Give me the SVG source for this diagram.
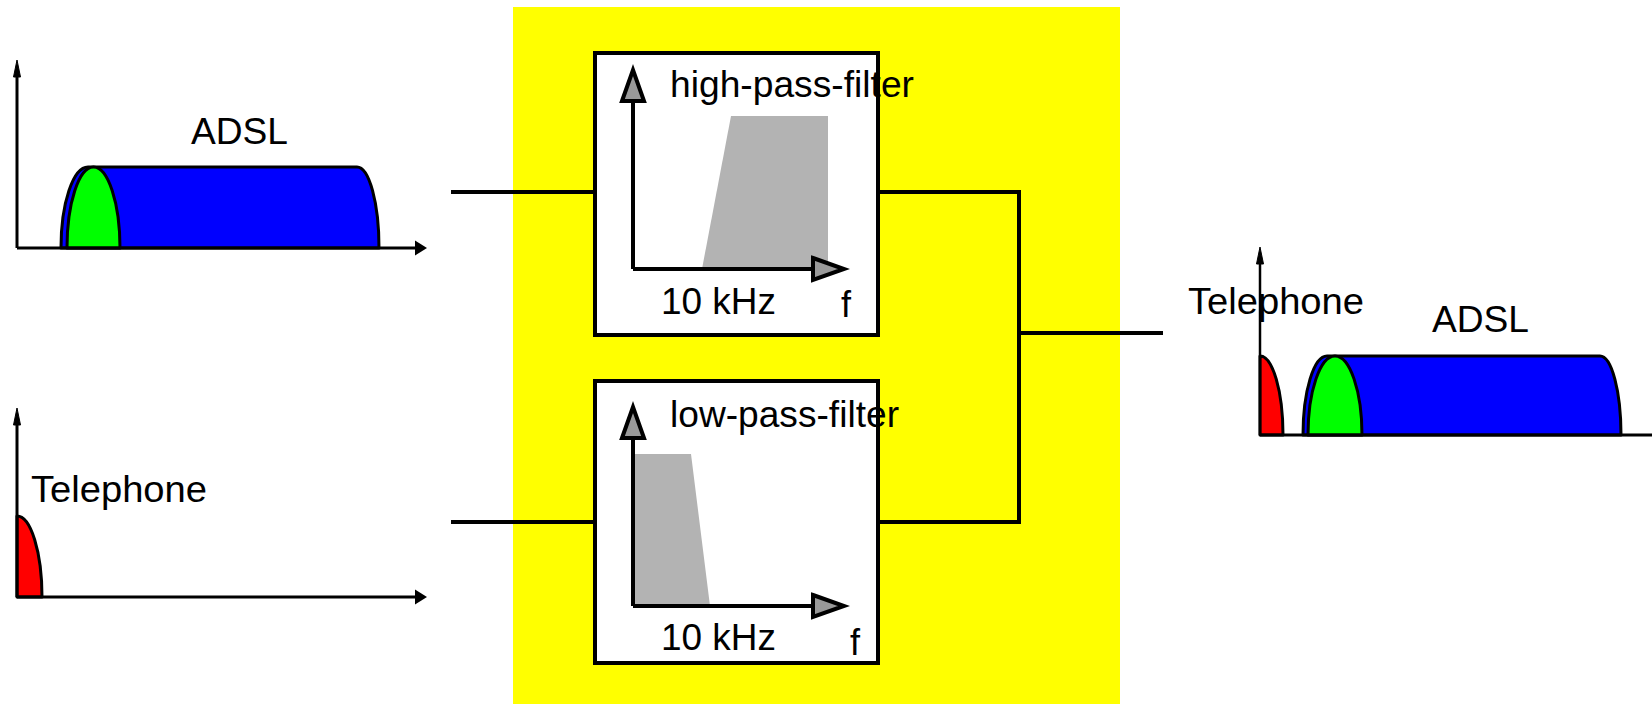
<svg xmlns="http://www.w3.org/2000/svg" width="1652" height="704" viewBox="0 0 1652 704">
<style>
text{font-family:"Liberation Sans",Arial,sans-serif;font-size:36px;fill:#000}
.ax{stroke:#000;stroke-width:3;fill:none}
.ax2{stroke:#000;stroke-width:2.5;fill:none}
.fax{stroke:#000;stroke-width:4;fill:none}
.box{fill:#fff;stroke:#000;stroke-width:4}
.wire{stroke:#000;stroke-width:4;fill:none;stroke-linecap:square}
.spec{stroke:#000;stroke-width:3;stroke-linejoin:round}
.pass{fill:#b3b3b3;stroke:none}
</style>
<defs>
<marker id="axX" markerUnits="userSpaceOnUse" markerWidth="20" markerHeight="20" refX="0" refY="0" orient="auto" overflow="visible">
<path d="M0,-7.5 L12,0 L0,7.5 Z" fill="#000"/>
</marker>
<marker id="axY" markerUnits="userSpaceOnUse" markerWidth="20" markerHeight="20" refX="0" refY="0" orient="auto" overflow="visible">
<path d="M0,-3.5 L17,0 L0,3.5 Z" fill="#000" stroke="#000" stroke-width="1"/>
</marker>
<marker id="fArrow" markerUnits="userSpaceOnUse" markerWidth="40" markerHeight="40" refX="0" refY="0" orient="auto" overflow="visible">
<path d="M0,-11 L31,0 L0,11 Z" fill="#999" stroke="#000" stroke-width="4" stroke-linejoin="miter"/>
</marker>
</defs>

<g id="splitter">
<rect x="513" y="7" width="607" height="697" fill="#ffff00"/>
</g>

<g id="connectors">
<line class="wire" x1="453" y1="192" x2="595" y2="192"/>
<line class="wire" x1="453" y1="522" x2="595" y2="522"/>
<polyline class="wire" points="878,192 1019,192 1019,522 878,522"/>
<line class="wire" x1="1019" y1="333" x2="1161" y2="333"/>
</g>

<g id="left-adsl-spectrum">
<path class="spec" fill="#0000ff" d="M61,248 A27,81 0 0 1 88,167 L357,167 A22,81 0 0 1 379,248 Z"/>
<path class="spec" fill="#00ff00" d="M67,248 A26.5,81 0 0 1 120,248 Z"/>
<line class="ax" x1="17" y1="248" x2="17" y2="77" marker-end="url(#axY)"/>
<line class="ax" x1="17" y1="248" x2="415" y2="248" marker-end="url(#axX)"/>
<text x="191" y="144" textLength="97" lengthAdjust="spacingAndGlyphs">ADSL</text>
</g>

<g id="left-telephone-spectrum">
<path class="spec" fill="#ff0000" d="M17,597 L17,516 A25,81 0 0 1 42,597 Z"/>
<line class="ax" x1="17" y1="597" x2="17" y2="425" marker-end="url(#axY)"/>
<line class="ax" x1="17" y1="597" x2="415" y2="597" marker-end="url(#axX)"/>
<text x="31" y="502" textLength="176" lengthAdjust="spacingAndGlyphs">Telephone</text>
</g>

<g id="hp-filter">
<rect class="box" x="595" y="53" width="283" height="282"/>
<polygon class="pass" points="702,269 731,116 828,116 828,269"/>
<line class="fax" x1="633" y1="269" x2="633" y2="101" marker-end="url(#fArrow)"/>
<line class="fax" x1="633" y1="269" x2="813" y2="269" marker-end="url(#fArrow)"/>
<text x="670" y="97" textLength="244" lengthAdjust="spacingAndGlyphs">high-pass-filter</text>
<text x="661" y="314" textLength="115" lengthAdjust="spacingAndGlyphs">10 kHz</text>
<text x="841" y="317">f</text>
</g>

<g id="lp-filter">
<rect class="box" x="595" y="381" width="283" height="282"/>
<polygon class="pass" points="635,454 691,454 710,606 635,606"/>
<line class="fax" x1="633" y1="606" x2="633" y2="438" marker-end="url(#fArrow)"/>
<line class="fax" x1="633" y1="606" x2="813" y2="606" marker-end="url(#fArrow)"/>
<text x="670" y="427" textLength="229" lengthAdjust="spacingAndGlyphs">low-pass-filter</text>
<text x="661" y="650" textLength="115" lengthAdjust="spacingAndGlyphs">10 kHz</text>
<text x="850" y="655">f</text>
</g>

<g id="right-spectrum">
<path class="spec" fill="#ff0000" d="M1260,435 L1260,356 A23,79 0 0 1 1283,435 Z"/>
<path class="spec" fill="#0000ff" d="M1303,435 A24,79 0 0 1 1327,356 L1600,356 A21,79 0 0 1 1621,435 Z"/>
<path class="spec" fill="#00ff00" d="M1308,435 A27,79 0 0 1 1362,435 Z"/>
<line class="ax2" x1="1260" y1="435" x2="1260" y2="264" marker-end="url(#axY)"/>
<line class="ax" x1="1260" y1="435" x2="1660" y2="435"/>
<text x="1188" y="314" textLength="176" lengthAdjust="spacingAndGlyphs">Telephone</text>
<text x="1432" y="332" textLength="97" lengthAdjust="spacingAndGlyphs">ADSL</text>
</g>
</svg>
